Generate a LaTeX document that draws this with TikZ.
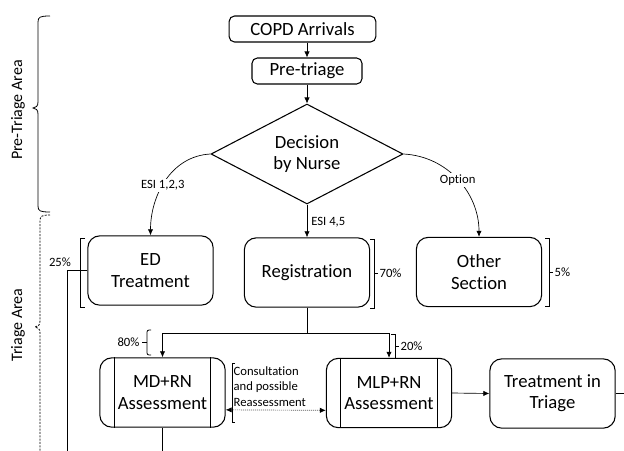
\documentclass[tikz,border=0pt]{standalone}
\usepackage{fontspec}
\setmainfont{Carlito}[Ligatures=NoCommon]
\usetikzlibrary{arrows.meta,shapes.geometric,calc}
\begin{document}
\begin{tikzpicture}[x=0.75pt,y=-0.75pt,
  box/.style={draw,line width=0.8pt,rounded corners=9pt,minimum width=94pt,minimum height=52pt,align=center,font=\fontsize{14}{16}\selectfont,inner sep=1pt},
  sbox/.style={draw,line width=0.8pt,rounded corners=4pt,minimum height=19.5pt,align=center,font=\fontsize{14}{16}\selectfont,inner sep=1pt},
  arr/.style={-{Latex[length=4.5pt,width=4pt]},line width=0.5pt},
  lnk/.style={line width=0.5pt},
  lbl/.style={font=\fontsize{9.5}{11}\selectfont,inner sep=1pt},
  brk/.style={line width=0.6pt},
  area/.style={rotate=90,font=\fontsize{12}{14}\selectfont},
]
\useasboundingbox (0,0) rectangle (624,450);
\clip (0,0) rectangle (624,450);

% nodes
\node[sbox,minimum width=110pt] (copd) at (302.5,29) {COPD Arrivals};
\node[sbox,minimum width=82.5pt] (pre) at (307,71) {Pre-triage};
\node[diamond,draw,line width=0.8pt,minimum width=144pt,minimum height=75pt,aspect=1.92,inner sep=0pt,align=center,font=\fontsize{14}{16}\selectfont] (dec) at (307,154) {Decision\\by Nurse};
\node[box] (ed) at (150.5,270.5) {ED\\Treatment};
\node[box] (reg) at (307,272.5) {Registration};
\node[box] (oth) at (479,272) {Other\\Section};
\node[box] (md) at (162.5,392.5) {MD+RN\\Assessment};
\node[box] (mlp) at (389,393) {MLP+RN\\Assessment};
\node[box] (tt) at (552.5,393.5) {Treatment in\\Triage};
\foreach \n in {md,mlp}{
  \draw[line width=0.8pt] ([xshift=11.25pt]\n.north west) -- ([xshift=11.25pt]\n.south west);
  \draw[line width=0.8pt] ([xshift=-11.25pt]\n.north east) -- ([xshift=-11.25pt]\n.south east);
}

% connectors
\draw[arr] (copd.south -| pre.north) -- (pre.north);
\draw[arr] (pre.south) -- (dec.north);
\draw[arr] (dec.west) to[out=183,in=90] node[lbl,fill=white,pos=0.55] {ESI 1,2,3} (ed.north);
\draw[arr] (dec.east) to[out=-3,in=90] node[lbl,fill=white,pos=0.5] {Option} (oth.north);
\draw[arr] (dec.south) -- node[lbl,anchor=west,xshift=2pt,pos=0.55] {ESI 4,5} (reg.north);
\coordinate (j) at (307,333);
\draw[lnk] (reg.south) -- (j);
\draw[arr] (j) -| (md.north);
\draw[arr] (j) -| (mlp.north);
\draw[arr] (mlp.east) -- (tt.west);
\coordinate (ttend) at (640,393.5);
\draw[lnk] (tt.east) -- (ttend);
\coordinate (mdend) at (162.5,460);
\draw[lnk] (md.south) -- (mdend);
\coordinate (edend) at (67,460);
\draw[lnk] (ed.west) -| (edend);
\draw[lnk,densely dotted,{Latex[length=4.5pt,width=4pt]}-{Latex[length=4.5pt,width=4pt]}] ([yshift=-13pt]md.east) -- ([yshift=-13pt]mlp.west);

% brackets and percentages
\draw[brk] (85,238) -- (80,238) -- (80,307) -- (85,307);
\node[lbl] (p25) at (60,262) {25\%};
\draw[brk] (370,239) -- (374,239) -- (374,308) -- (370,308);
\draw[brk] (374,273) -- (378,273);
\node[lbl,anchor=west] (p70) at (378,273) {70\%};
\draw[brk] (545,238) -- (549,238) -- (549,306) -- (545,306);
\draw[brk] (549,272) -- (553,272);
\node[lbl,anchor=west] (p5) at (553,272) {5\%};
\draw[brk,rounded corners=1.5pt] (151,330) -- (147,330) -- (147,355) -- (151,355);
\draw[brk] (147,342) -- (142,342);
\node[lbl,anchor=east] (p80) at (141,342) {80\%};
\draw[brk] (391,334) -- (395,334) -- (395,358) -- (391,358);
\draw[brk] (395,346) -- (399,346);
\node[lbl,anchor=west] (p20) at (399,346) {20\%};
\draw[brk] (235,363) -- (232,363) -- (232,422) -- (235,422);
\node[lbl,anchor=west,align=left,font=\fontsize{9.5}{11.6}\selectfont] (cons) at (232,386.5) {Consultation\\and possible\\Reassessment};

% area braces
\draw[brk] (50,16) .. controls (40,16) and (38,17) .. (38,22) -- (38,102) .. controls (38,106) and (36,108) .. (33,108) .. controls (36,108) and (38,110) .. (38,114) -- (38,206) .. controls (38,211) and (40,212) .. (50,212);
\draw[brk,dash pattern=on 1.5pt off 1pt] (50,215) .. controls (42,215) and (40,216) .. (40,221) -- (40,321) .. controls (40,325) and (38,327) .. (35,327) .. controls (38,327) and (40,329) .. (40,333) -- (40,460);
\node[area] (pta) at (18,110) {Pre-Triage Area};
\node[area] (ta) at (18,325) {Triage Area};
\end{tikzpicture}
\end{document}
